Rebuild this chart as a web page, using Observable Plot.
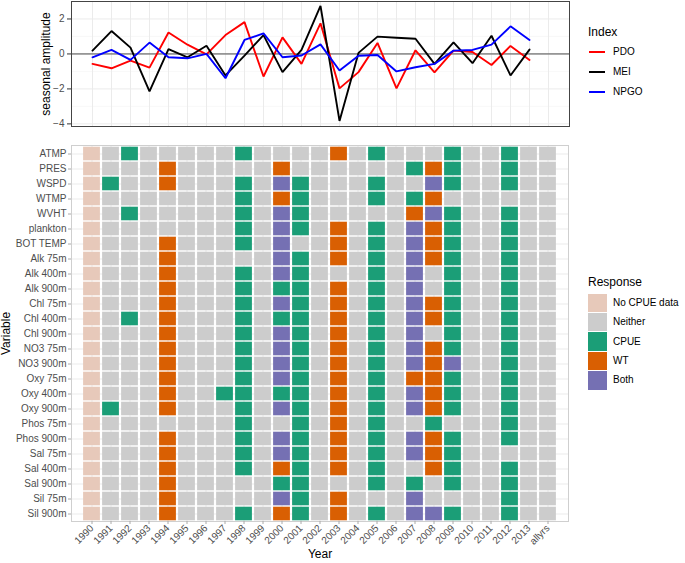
<!DOCTYPE html>
<html><head><meta charset="utf-8">
<script src="https://cdn.jsdelivr.net/npm/d3@7"></script>
<script src="https://cdn.jsdelivr.net/npm/@observablehq/plot@0.6"></script>
<style>
body{margin:0;background:#fff;font-family:"Liberation Sans",Arial,Helvetica,sans-serif;}
#wrap{position:relative;width:685px;height:563px;overflow:hidden;background:#fff;}
#wrap svg{position:absolute;left:0;top:0;overflow:visible;}
.lt{position:absolute;font-size:12px;line-height:14px;color:#000;white-space:nowrap;}
.ll{position:absolute;font-size:10px;line-height:12px;color:#000;white-space:nowrap;}
.sw{position:absolute;}
</style></head>
<body><div id="wrap"></div>
<script>
const years = ["1990","1991","1992","1993","1994","1995","1996","1997","1998","1999","2000","2001","2002","2003","2004","2005","2006","2007","2008","2009","2010","2011","2012","2013"];
const columns = [...years, "allyrs"];
const indexNames = ["PDO","MEI","NPGO"];
const indexColors = ["#FF0000","#000000","#0000FF"];
const pdo  = [-0.57,-0.82,-0.38,-0.78,1.23,0.53,-0.02,1.08,1.82,-1.29,0.95,-0.57,1.75,-1.97,-1.04,0.63,-1.97,0.21,-1.06,0.19,0.11,-0.63,0.46,-0.34];
const mei  = [0.19,1.31,0.36,-2.14,0.28,-0.19,0.47,-1.23,-0.10,1.08,-1.04,0.23,2.75,-3.83,0.06,0.99,0.93,0.87,-0.57,0.66,-0.53,1.04,-1.23,0.25];
const npgo = [-0.19,0.23,-0.34,0.65,-0.19,-0.25,0.00,-1.39,0.80,1.18,-0.19,-0.09,0.55,-0.95,-0.10,-0.06,-1.00,-0.76,-0.57,0.19,0.23,0.53,1.58,0.80];
const ampTicks = [-4,-2,0,2];

const variables = ["ATMP","PRES","WSPD","WTMP","WVHT","plankton","BOT TEMP","Alk 75m","Alk 400m","Alk 900m","Chl 75m","Chl 400m","Chl 900m","NO3 75m","NO3 900m","Oxy 75m","Oxy 400m","Oxy 900m","Phos 75m","Phos 900m","Sal 75m","Sal 400m","Sal 900m","Sil 75m","Sil 900m"];
// one code per column (1990..2013, allyrs): P=No CPUE data, N=Neither, C=CPUE, W=WT, B=Both
const responseRows = [
 "PNCNNNNNCNNNNWNCNNNCNNCNN",
 "PNNNWNNNNNWNNNNNNCWCNNCNN",
 "PCNNWNNNCNBCNNNCNNBCNNCNN",
 "PNNNNNNNCNWCNNNCNCWNNNNNN",
 "PNCNNNNNCNBCNNNNNWBCNNCNN",
 "PNNNNNNNCNBCNWNCNBWCNNCNN",
 "PNNNWNNNCNBNNWNCNBWCNNCNN",
 "PNNNWNNNNNBCNWNCNBWCNNCNN",
 "PNNNWNNNCNBCNNNCNBNCNNCNN",
 "PNNNWNNNCNCCNWNCNBNCNNCNN",
 "PNNNWNNNCNBCNWNCNBWCNNCNN",
 "PNCNWNNNCNCCNWNCNBWCNNCNN",
 "PNNNWNNNCNBCNWNCNBNCNNCNN",
 "PNNNWNNNCNBCNWNCNBWCNNCNN",
 "PNNNWNNNCNBCNWNCNBWBNNCNN",
 "PNNNWNNNCNBCNWNCNWWCNNCNN",
 "PNNNWNNCCNCCNWNCNBWCNNCNN",
 "PCNNWNNNCNBCNWNCNBWCNNCNN",
 "PNNNNNNNCNNCNWNCNNCNNNCNN",
 "PNNNWNNNCNBCNWNCNBWCNNCNN",
 "PNNNWNNNCNBCNWNCNBWCNNNNN",
 "PNNNWNNNCNWCNWNCNNWCNNCNN",
 "PNNNWNNNNNCCNNNCNCNCNNCNN",
 "PNNNWNNNNNBCNWNNNBNNNNCNN",
 "PNNNWNNNCNWCNWNCNBBCNNCNN"
];
const responseCodes = ["P","N","C","W","B"];
const responseLabels = ["No CPUE data","Neither","CPUE","WT","Both"];
const responseColors = ["#E7C9BA","#CCCCCC","#1B9E77","#D95F02","#7570B3"];

const FONT = '"Liberation Sans",Arial,Helvetica,sans-serif';
const wrap = document.getElementById("wrap");

// ---- top line chart ----
const series = [pdo, mei, npgo];
const lineData = [];
indexNames.forEach((nm, k) => series[k].forEach((v, i) => lineData.push({year: years[i], value: v, index: nm})));

const topPlot = Plot.plot({
  width: 575, height: 130,
  marginLeft: 71, marginRight: 6, marginTop: 1, marginBottom: 4,
  style: {background: "transparent", fontFamily: FONT, fontSize: "10px", color: "#4D4D4D", overflow: "visible"},
  x: {type: "point", domain: columns, padding: 0.5, axis: null},
  y: {domain: [-4.15, 3.0], axis: null},
  color: {domain: indexNames, range: indexColors},
  marks: [
    Plot.gridY([-3, -1, 1], {stroke: "#F3F3F3", strokeOpacity: 1, strokeWidth: 0.6}),
    Plot.gridY(ampTicks, {stroke: "#EBEBEB", strokeOpacity: 1, strokeWidth: 1}),
    Plot.gridX(columns, {stroke: "#EBEBEB", strokeOpacity: 1, strokeWidth: 1}),
    Plot.ruleY([0], {stroke: "#4D4D4D", strokeWidth: 1}),
    Plot.line(lineData, {x: "year", y: "value", z: "index", stroke: "index", strokeWidth: 1.9, strokeLinejoin: "miter"}),
    Plot.frame({stroke: "#444444", strokeWidth: 1}),
    Plot.axisY(ampTicks, {tickSize: 4, tickPadding: 3, label: null, stroke: "#333333", fill: "#4D4D4D", fontSize: 10}),
    Plot.text(["seasonal amplitude"], {frameAnchor: "left", textAnchor: "middle", rotate: -90, dx: -25, fontSize: 12, fill: "#000"})
  ]
});
wrap.appendChild(topPlot);

// ---- heatmap ----
const cells = [];
variables.forEach((v, r) => {
  const row = responseRows[r];
  columns.forEach((c, i) => {
    cells.push({variable: v, col: c, response: responseLabels[responseCodes.indexOf(row[i])]});
  });
});

const heat = Plot.plot({
  width: 575, height: 563,
  marginLeft: 71, marginRight: 7, marginTop: 145, marginBottom: 42,
  style: {background: "transparent", fontFamily: FONT, fontSize: "10px", color: "#4D4D4D", overflow: "visible"},
  x: {type: "band", domain: columns, padding: 0, axis: null},
  y: {type: "band", domain: variables, padding: 0, axis: null},
  color: {domain: responseLabels, range: responseColors},
  marks: [
    Plot.gridX(columns, {stroke: "#EBEBEB", strokeOpacity: 1}),
    Plot.gridY(variables, {stroke: "#EBEBEB", strokeOpacity: 1}),
    Plot.cell(cells, {x: "col", y: "variable", fill: "response", insetLeft: 1.1, insetRight: 1.1, insetTop: 0.7, insetBottom: 0.7}),
    Plot.frame({stroke: "#CFCFCF", strokeWidth: 1}),
    Plot.axisX(columns, {tickSize: 3, tickPadding: 2, tickRotate: -45, label: null, stroke: "#AAAAAA", fill: "#4D4D4D", fontSize: 10}),
    Plot.axisY(variables, {tickSize: 3, tickPadding: 2, label: null, stroke: "#AAAAAA", fill: "#4D4D4D", fontSize: 10}),
    Plot.text(["Year"], {frameAnchor: "bottom", textAnchor: "middle", dy: 36, fontSize: 12, fill: "#000"}),
    Plot.text(["Variable"], {frameAnchor: "left", textAnchor: "middle", rotate: -90, dx: -65, fontSize: 12, fill: "#000"})
  ]
});
wrap.appendChild(heat);

// ---- legends ----
function addDiv(cls, text, css) {
  const d = document.createElement("div");
  d.className = cls;
  if (text) d.textContent = text;
  Object.assign(d.style, css);
  wrap.appendChild(d);
  return d;
}
addDiv("lt", "Index", {left: "588px", top: "25px"});
indexNames.forEach((nm, k) => {
  const cy = 52 + k * 20;
  addDiv("sw", "", {left: "589px", top: (cy - 1) + "px", width: "16px", height: "2px", background: indexColors[k]});
  addDiv("ll", nm, {left: "613px", top: (cy - 6) + "px"});
});
addDiv("lt", "Response", {left: "588px", top: "275px"});
responseLabels.forEach((nm, k) => {
  const t = 293.5 + k * 19.4;
  addDiv("sw", "", {left: "588px", top: t + "px", width: "19px", height: "18.6px", background: responseColors[k]});
  addDiv("ll", nm, {left: "613px", top: (t + 9.3 - 6) + "px"});
});
</script></body></html>
